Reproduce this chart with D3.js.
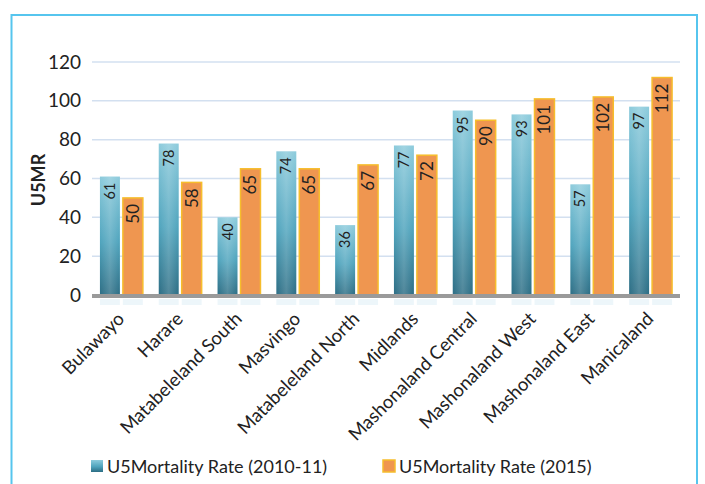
<!DOCTYPE html>
<html><head><meta charset="utf-8">
<script src="https://cdn.jsdelivr.net/npm/d3@7"></script>
<style>body{margin:0;background:#fff}svg{display:block}text{font-family:Lato,sans-serif;fill:#222}</style>
</head><body>
<svg id="c" width="705" height="484"></svg>
<script>
const categories = ["Bulawayo","Harare","Matabeleland South","Masvingo","Matabeleland North","Midlands","Mashonaland Central","Mashonaland West","Mashonaland East","Manicaland"];
const series = ["U5Mortality Rate (2010-11)","U5Mortality Rate (2015)"];
const rate2010 = [61,78,40,74,36,77,95,93,57,97];
const rate2015 = [50,58,65,65,67,72,90,101,102,112];
const yTicks = [0,20,40,60,80,100,120];

const svg = d3.select("#c");
const defs = svg.append("defs");
const gb = defs.append("linearGradient").attr("id","gb").attr("x1",0).attr("y1",0).attr("x2",0).attr("y2",1);
gb.append("stop").attr("offset","0%").attr("stop-color","#8ccbdc");
gb.append("stop").attr("offset","55%").attr("stop-color","#4fa4bd");
gb.append("stop").attr("offset","100%").attr("stop-color","#2c6d84");
const gh = defs.append("linearGradient").attr("id","gh").attr("x1",0).attr("y1",0).attr("x2",1).attr("y2",0);
gh.append("stop").attr("offset","0%").attr("stop-color","#fff").attr("stop-opacity",0);
gh.append("stop").attr("offset","50%").attr("stop-color","#fff").attr("stop-opacity",0.18);
gh.append("stop").attr("offset","100%").attr("stop-color","#fff").attr("stop-opacity",0);

// frame
svg.append("rect").attr("x",11.5).attr("y",15).attr("width",685.5).attr("height",490)
  .attr("fill","none").attr("stroke","#56c5ee").attr("stroke-width",2);

const x0 = d3.scaleBand().domain(categories).range([92,680]).paddingInner(0.27).paddingOuter(0.135);
const x1 = d3.scaleBand().domain(series).range([0,x0.bandwidth()]).paddingInner(0.13);
const y = d3.scaleLinear().domain([0,120]).range([295,62]);

// gridlines
svg.append("g").selectAll("line").data(yTicks.filter(d=>d>0)).join("line")
  .attr("x1",92).attr("x2",680).attr("y1",d=>y(d)).attr("y2",d=>y(d))
  .attr("stroke","#d3e0f0").attr("stroke-width",1.5);

// y axis labels
const ya = svg.append("g").attr("transform","translate(92,0)")
  .call(d3.axisLeft(y).tickValues(yTicks).tickSize(0).tickPadding(11));
ya.attr("font-family","Lato,sans-serif").attr("font-size","19px");
ya.select(".domain").remove();
ya.selectAll("text").attr("fill","#222");

svg.append("text").attr("transform","translate(45,180) rotate(-90)").attr("text-anchor","middle")
  .style("font-size","18px").style("font-weight","bold").text("U5MR");

const data = categories.map((c,i)=>({c, vals:[{s:series[0],v:rate2010[i]},{s:series[1],v:rate2015[i]}]}));

const g = svg.append("g").selectAll("g").data(data).join("g")
  .attr("transform",d=>`translate(${x0(d.c)},0)`);

// reflections
g.selectAll("rect.refl").data(d=>d.vals).join("rect").attr("class","refl")
  .attr("x",d=>x1(d.s)).attr("width",x1.bandwidth()).attr("y",299).attr("height",6)
  .attr("fill","#d7eaf3").attr("opacity",0.45);

g.selectAll("rect.bar").data(d=>d.vals).join("rect").attr("class","bar")
  .attr("x",d=>x1(d.s)).attr("width",x1.bandwidth())
  .attr("y",d=>y(d.v)).attr("height",d=>y(0)-y(d.v))
  .attr("fill",d=>d.s===series[0]?"url(#gb)":"#ef9650")
  .attr("stroke",d=>d.s===series[0]?"none":"#f6bd2c").attr("stroke-width",1.5);
g.selectAll("rect.hl").data(d=>d.vals.filter(v=>v.s===series[0])).join("rect").attr("class","hl")
  .attr("x",d=>x1(d.s)).attr("width",x1.bandwidth())
  .attr("y",d=>y(d.v)).attr("height",d=>y(0)-y(d.v)).attr("fill","url(#gh)");

g.selectAll("text.val").data(d=>d.vals).join("text").attr("class","val")
  .attr("transform",d=>`translate(${x1(d.s)+x1.bandwidth()/2+(d.s===series[0]?5:6)},${y(d.v)+6}) rotate(-90)`)
  .attr("text-anchor","end").style("font-size",d=>d.s===series[0]?"14.5px":"17px").attr("fill","#222").text(d=>d.v);

// baseline
svg.append("rect").attr("x",92).attr("y",y(0)-1).attr("width",588).attr("height",4).attr("fill","#9a9a9a");

// x labels
svg.append("g").selectAll("text").data(categories).join("text")
  .attr("transform",d=>`translate(${x0(d)+x0.bandwidth()/2+4},${y(0)+25}) rotate(-45)`)
  .attr("text-anchor","end").style("font-size","18.5px").text(d=>d);

// legend
const colors = ["url(#gb)","#ef9650"];
const lx = [91,383];
const lg = svg.append("g").selectAll("g").data(series).join("g").attr("transform",(d,i)=>`translate(${lx[i]},460)`);
lg.append("rect").attr("width",12).attr("height",12).attr("fill",(d,i)=>colors[i])
  .attr("stroke",(d,i)=>i?"#f6bd2c":"none").attr("stroke-width",1.5);
lg.append("text").attr("x",16).attr("y",13).style("font-size","18px").text(d=>d);
</script>
</body></html>
